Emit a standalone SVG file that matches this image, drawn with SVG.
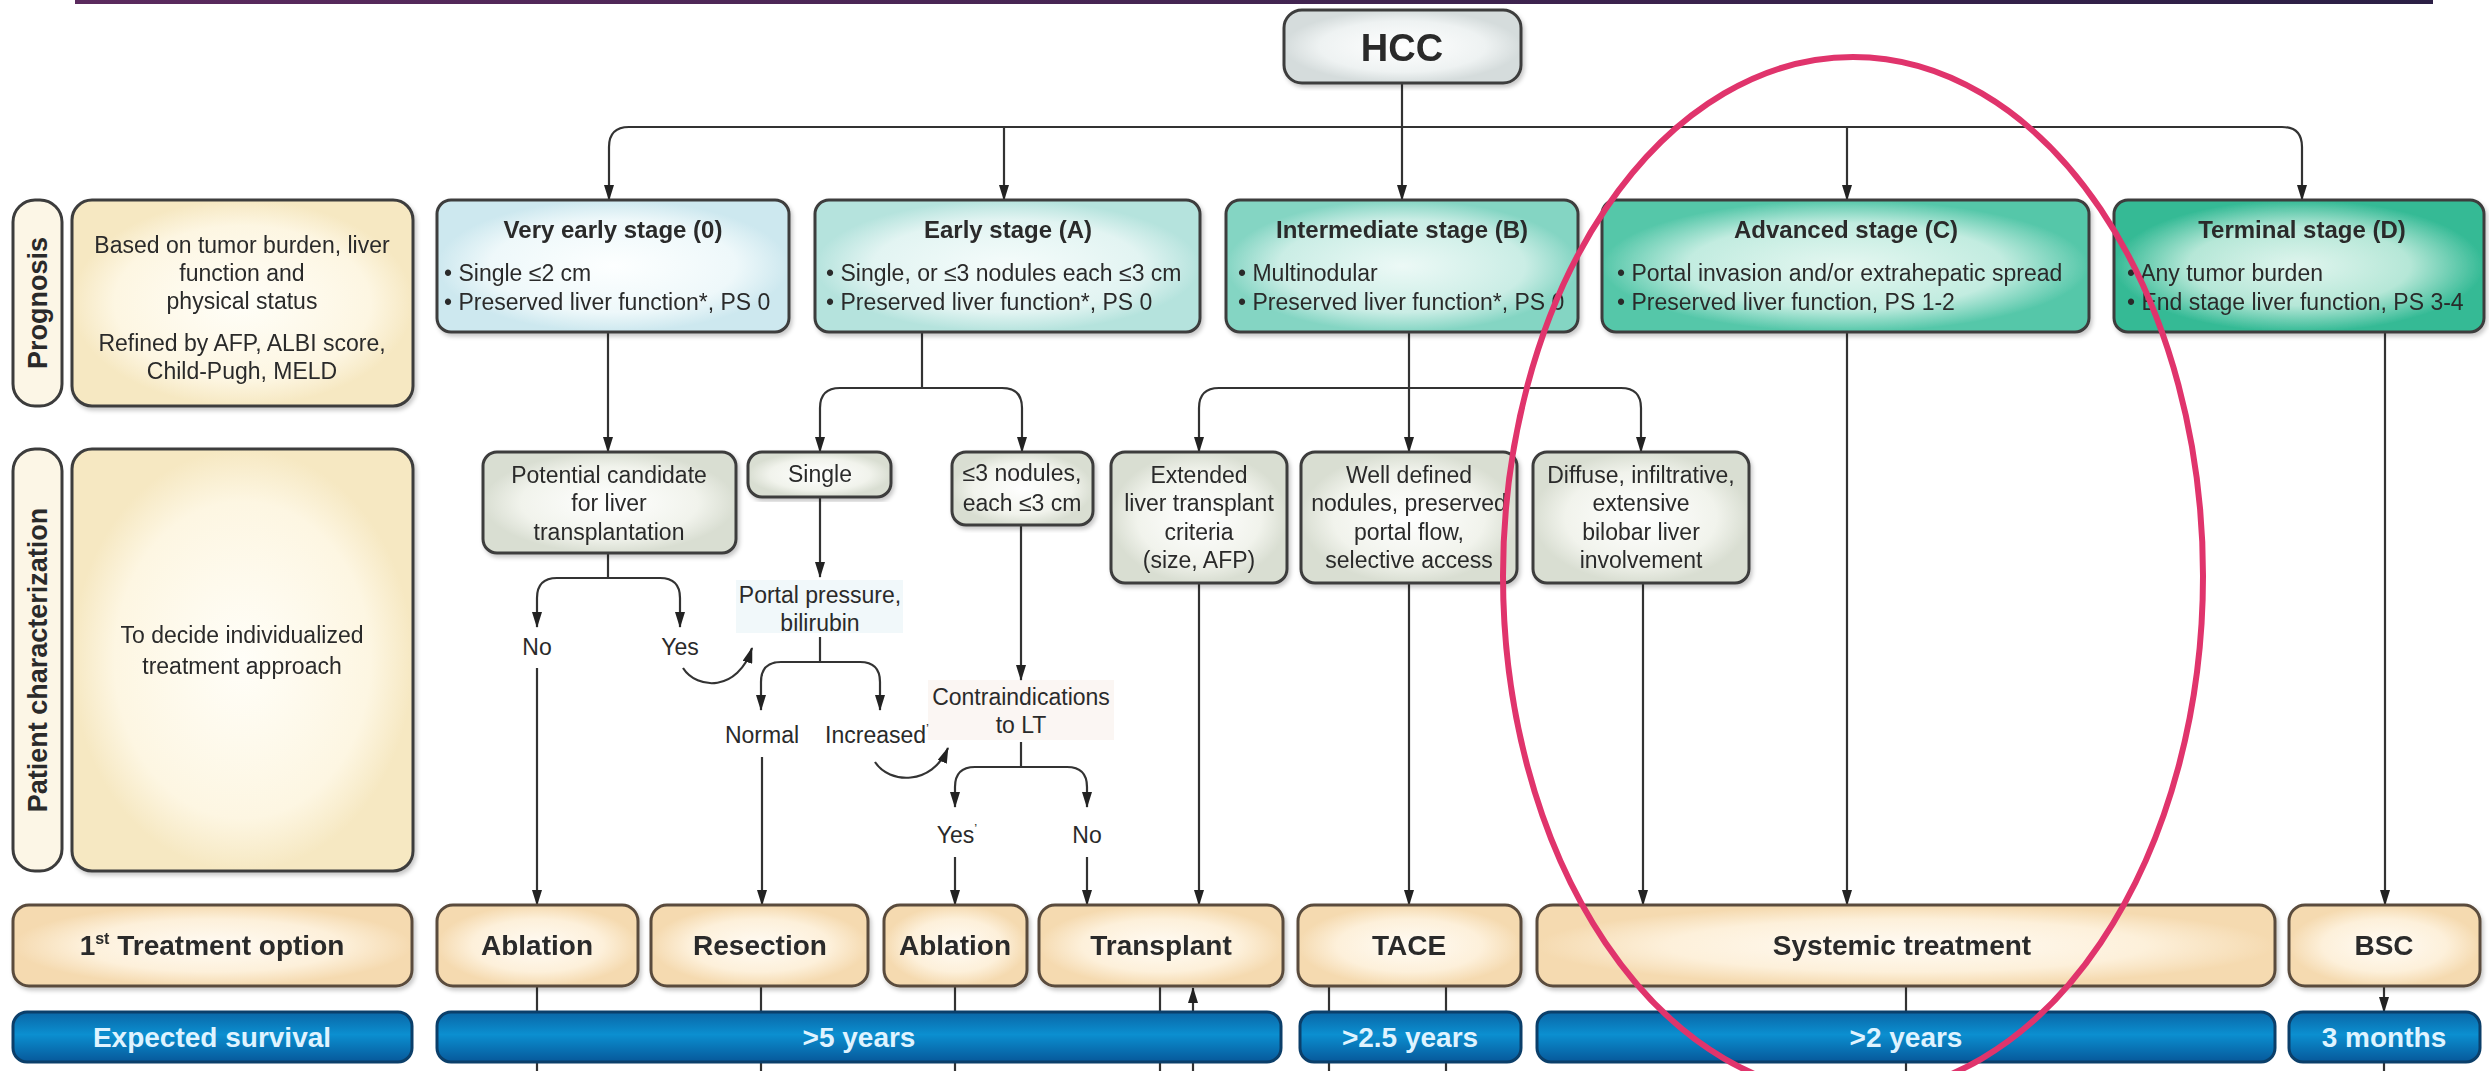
<svg xmlns="http://www.w3.org/2000/svg" width="2489" height="1071" viewBox="0 0 2489 1071">
<defs>
<style>
.t{font-family:"Liberation Sans",Arial,sans-serif;fill:#2a2a2a;}
.c{text-anchor:middle;}
.b{font-weight:bold;}
.s{font-size:23px;}
.bx{stroke:#3c3c3c;stroke-width:3;}
.tb{stroke:#5a4c3c;stroke-width:3;}
.sv{stroke:#0b3f6a;stroke-width:3;fill:url(#gBar);}
.wt{fill:#dff3ff;font-size:28px;font-weight:bold;}
.ln{fill:none;stroke:#333;stroke-width:2.2;}
.ar{marker-end:url(#ah);}
</style>
<marker id="ah" viewBox="0 0 16 10" refX="15" refY="5" markerWidth="16" markerHeight="10" orient="auto" markerUnits="userSpaceOnUse"><path d="M0,0 L16,5 L0,10 Z" fill="#222"/></marker>
<filter id="sh" x="-5%" y="-5%" width="110%" height="115%"><feDropShadow dx="2" dy="3" stdDeviation="2" flood-color="#000" flood-opacity="0.22"/></filter>
<linearGradient id="gTop" x1="0" y1="0" x2="1" y2="0"><stop offset="0" stop-color="#5b2a5e"/><stop offset="1" stop-color="#2b1f45"/></linearGradient>
<radialGradient id="gHCC"><stop offset="0" stop-color="#ffffff"/><stop offset="0.7" stop-color="#eef2f2"/><stop offset="1" stop-color="#d5dcdc"/></radialGradient>
<radialGradient id="gVE"><stop offset="0" stop-color="#fdffff"/><stop offset="0.7" stop-color="#eef8fa"/><stop offset="1" stop-color="#cde8ef"/></radialGradient>
<radialGradient id="gE"><stop offset="0" stop-color="#f5fcfb"/><stop offset="0.7" stop-color="#e2f4f2"/><stop offset="1" stop-color="#b5e3dd"/></radialGradient>
<radialGradient id="gI"><stop offset="0" stop-color="#ecf9f6"/><stop offset="0.7" stop-color="#caede5"/><stop offset="1" stop-color="#84d5c3"/></radialGradient>
<radialGradient id="gA"><stop offset="0" stop-color="#e5f7f1"/><stop offset="0.65" stop-color="#c2ece0"/><stop offset="1" stop-color="#55c7a9"/></radialGradient>
<radialGradient id="gT"><stop offset="0" stop-color="#e0f5ee"/><stop offset="0.6" stop-color="#b5e7d7"/><stop offset="1" stop-color="#34ba95"/></radialGradient>
<radialGradient id="gSub"><stop offset="0" stop-color="#ffffff"/><stop offset="0.7" stop-color="#f1f3ec"/><stop offset="1" stop-color="#d9ded2"/></radialGradient>
<radialGradient id="gY"><stop offset="0" stop-color="#fffef8"/><stop offset="0.75" stop-color="#fdf6e2"/><stop offset="1" stop-color="#f6e8c2"/></radialGradient>
<radialGradient id="gTr"><stop offset="0" stop-color="#fffbf4"/><stop offset="0.65" stop-color="#fdf0da"/><stop offset="1" stop-color="#f5dab0"/></radialGradient>
<linearGradient id="gBar" x1="0" y1="0" x2="0" y2="1"><stop offset="0" stop-color="#0a66a6"/><stop offset="0.45" stop-color="#0b8fd0"/><stop offset="1" stop-color="#07589a"/></linearGradient>
</defs>
<rect width="2489" height="1071" fill="#ffffff"/>
<rect x="75" y="0" width="2358" height="4" fill="url(#gTop)"/>
<rect x="736" y="580" width="167" height="53" fill="#f1f8fa"/>
<rect x="928" y="680" width="186" height="60" fill="#fbf6f3"/>

<g id="connectors">
<path class="ln ar" d="M1402,83 V200"/>
<path class="ln ar" d="M1402,127 H629 Q609,127 609,147 V200"/>
<path class="ln ar" d="M1402,127 H2282 Q2302,127 2302,147 V200"/>
<path class="ln ar" d="M1004,127 V200"/>
<path class="ln ar" d="M1847,127 V200"/>
<path class="ln ar" d="M608,332 V452"/>
<path class="ln" d="M922,332 V388"/>
<path class="ln ar" d="M922,388 H840 Q820,388 820,408 V452"/>
<path class="ln ar" d="M922,388 H1002 Q1022,388 1022,408 V452"/>
<path class="ln ar" d="M1409,332 V452"/>
<path class="ln ar" d="M1409,388 H1219 Q1199,388 1199,408 V452"/>
<path class="ln ar" d="M1409,388 H1621 Q1641,388 1641,408 V452"/>
<path class="ln ar" d="M1847,332 V905"/>
<path class="ln ar" d="M2385,332 V905"/>
<path class="ln" d="M608,553 V578"/>
<path class="ln ar" d="M608,578 H557 Q537,578 537,598 V627"/>
<path class="ln ar" d="M608,578 H660 Q680,578 680,598 V627"/>
<path class="ln ar" d="M537,668 V905"/>
<path class="ln ar" d="M683,668 C697,690 738,692 752,648"/>
<path class="ln ar" d="M820,497 V577"/>
<path class="ln" d="M820,637 V662"/>
<path class="ln ar" d="M820,662 H781 Q761,662 761,682 V710"/>
<path class="ln ar" d="M820,662 H860 Q880,662 880,682 V710"/>
<path class="ln ar" d="M762,757 V905"/>
<path class="ln ar" d="M875,762 C889,784 932,786 948,748"/>
<path class="ln ar" d="M1021,525 V680"/>
<path class="ln" d="M1021,742 V767"/>
<path class="ln ar" d="M1021,767 H975 Q955,767 955,787 V807"/>
<path class="ln ar" d="M1021,767 H1067 Q1087,767 1087,787 V807"/>
<path class="ln ar" d="M955,857 V905"/>
<path class="ln ar" d="M1087,857 V905"/>
<path class="ln ar" d="M1199,583 V905"/>
<path class="ln ar" d="M1409,583 V905"/>
<path class="ln ar" d="M1643,583 V905"/>
<path class="ln" d="M537,986 V1071"/>
<path class="ln" d="M761,986 V1071"/>
<path class="ln" d="M955,986 V1071"/>
<path class="ln" d="M1160,986 V1071"/>
<path class="ln ar" d="M1193,1071 V988"/>
<path class="ln" d="M1329,986 V1071"/>
<path class="ln" d="M1446,986 V1071"/>
<path class="ln" d="M1906,986 V1071"/>
<path class="ln ar" d="M2384,986 V1012"/>
<path class="ln" d="M2384,1062 V1071"/>
</g>

<g id="hcc" filter="url(#sh)"><rect x="1284" y="10" width="237" height="73" rx="18" class="bx" fill="url(#gHCC)"/><text x="1402" y="61" class="t c b" font-size="38">HCC</text></g>

<g id="label-prognosis"><rect x="13" y="200" width="49" height="206" rx="22" class="bx" fill="#fcf6e6"/><text class="t c b" font-size="27" transform="translate(47,303) rotate(-90)">Prognosis</text></g>
<g id="prognosis-text" filter="url(#sh)"><rect x="72" y="200" width="341" height="206" rx="20" class="bx" fill="url(#gY)"/>
<text class="t c s" x="242" y="253">Based on tumor burden, liver</text>
<text class="t c s" x="242" y="281">function and</text>
<text class="t c s" x="242" y="309">physical status</text>
<text class="t c s" x="242" y="351">Refined by AFP, ALBI score,</text>
<text class="t c s" x="242" y="379">Child-Pugh, MELD</text></g>
<g id="label-patient"><rect x="13" y="449" width="49" height="422" rx="22" class="bx" fill="#fcf6e6"/><text class="t c b" font-size="27" transform="translate(47,660) rotate(-90)">Patient characterization</text></g>
<g id="patient-text" filter="url(#sh)"><rect x="72" y="449" width="341" height="422" rx="20" class="bx" fill="url(#gY)"/>
<text class="t c s" x="242" y="643">To decide individualized</text>
<text class="t c s" x="242" y="674">treatment approach</text></g>

<g id="stage-0" filter="url(#sh)"><rect x="437" y="200" width="352" height="132" rx="14" class="bx" fill="url(#gVE)"/>
<text class="t c b" font-size="24" x="613" y="238">Very early stage (0)</text>
<text class="t s" x="444" y="281">• Single ≤2 cm</text>
<text class="t s" x="444" y="310">• Preserved liver function*, PS 0</text></g>
<g id="stage-a" filter="url(#sh)"><rect x="815" y="200" width="385" height="132" rx="14" class="bx" fill="url(#gE)"/>
<text class="t c b" font-size="24" x="1008" y="238">Early stage (A)</text>
<text class="t s" x="826" y="281">• Single, or ≤3 nodules each ≤3 cm</text>
<text class="t s" x="826" y="310">• Preserved liver function*, PS 0</text></g>
<g id="stage-b" filter="url(#sh)"><rect x="1226" y="200" width="352" height="132" rx="14" class="bx" fill="url(#gI)"/>
<text class="t c b" font-size="24" x="1402" y="238">Intermediate stage (B)</text>
<text class="t s" x="1238" y="281">• Multinodular</text>
<text class="t s" x="1238" y="310">• Preserved liver function*, PS 0</text></g>
<g id="stage-c" filter="url(#sh)"><rect x="1602" y="200" width="487" height="132" rx="14" class="bx" fill="url(#gA)"/>
<text class="t c b" font-size="24" x="1846" y="238">Advanced stage (C)</text>
<text class="t s" x="1617" y="281">• Portal invasion and/or extrahepatic spread</text>
<text class="t s" x="1617" y="310">• Preserved liver function, PS 1-2</text></g>
<g id="stage-d" filter="url(#sh)"><rect x="2114" y="200" width="370" height="132" rx="14" class="bx" fill="url(#gT)"/>
<text class="t c b" font-size="24" x="2302" y="238">Terminal stage (D)</text>
<text class="t s" x="2127" y="281">• Any tumor burden</text>
<text class="t s" x="2127" y="310">• End stage liver function, PS 3-4</text></g>

<g id="potential-candidate" filter="url(#sh)"><rect x="483" y="452" width="253" height="101" rx="14" class="bx" fill="url(#gSub)"/>
<text class="t c s" x="609" y="483">Potential candidate</text>
<text class="t c s" x="609" y="511">for liver</text>
<text class="t c s" x="609" y="540">transplantation</text></g>
<g id="single" filter="url(#sh)"><rect x="748" y="452" width="143" height="45" rx="14" class="bx" fill="url(#gSub)"/>
<text class="t c s" x="820" y="482">Single</text></g>
<g id="nodules" filter="url(#sh)"><rect x="952" y="452" width="141" height="73" rx="14" class="bx" fill="url(#gSub)"/>
<text class="t c s" x="1022" y="481">≤3 nodules,</text>
<text class="t c s" x="1022" y="511">each ≤3 cm</text></g>
<g id="extended" filter="url(#sh)"><rect x="1111" y="452" width="176" height="131" rx="14" class="bx" fill="url(#gSub)"/>
<text class="t c s" x="1199" y="483">Extended</text>
<text class="t c s" x="1199" y="511">liver transplant</text>
<text class="t c s" x="1199" y="540">criteria</text>
<text class="t c s" x="1199" y="568">(size, AFP)</text></g>
<g id="well-defined" filter="url(#sh)"><rect x="1301" y="452" width="216" height="131" rx="14" class="bx" fill="url(#gSub)"/>
<text class="t c s" x="1409" y="483">Well defined</text>
<text class="t c s" x="1409" y="511">nodules, preserved</text>
<text class="t c s" x="1409" y="540">portal flow,</text>
<text class="t c s" x="1409" y="568">selective access</text></g>
<g id="diffuse" filter="url(#sh)"><rect x="1533" y="452" width="216" height="131" rx="14" class="bx" fill="url(#gSub)"/>
<text class="t c s" x="1641" y="483">Diffuse, infiltrative,</text>
<text class="t c s" x="1641" y="511">extensive</text>
<text class="t c s" x="1641" y="540">bilobar liver</text>
<text class="t c s" x="1641" y="568">involvement</text></g>

<g id="decision-labels">
<text class="t c s" x="537" y="655">No</text>
<text class="t c s" x="680" y="655">Yes</text>
<text class="t c s" x="820" y="603">Portal pressure,</text>
<text class="t c s" x="820" y="631">bilirubin</text>
<text class="t c s" x="762" y="743">Normal</text>
<text class="t c s" x="877" y="743">Increased<tspan font-size="13" dy="-10">’</tspan></text>
<text class="t c s" x="1021" y="705">Contraindications</text>
<text class="t c s" x="1021" y="733">to LT</text>
<text class="t c s" x="957" y="843">Yes<tspan font-size="13" dy="-10">’</tspan></text>
<text class="t c s" x="1087" y="843">No</text>
</g>

<g id="treatment-label" filter="url(#sh)"><rect x="13" y="905" width="399" height="81" rx="16" class="tb" fill="url(#gTr)"/><text class="t c b" font-size="28" x="212" y="955">1<tspan font-size="16" dy="-11">st</tspan><tspan dy="11"> Treatment option</tspan></text></g>
<g id="tr-ablation-1" filter="url(#sh)"><rect x="437" y="905" width="201" height="81" rx="16" class="tb" fill="url(#gTr)"/><text class="t c b" font-size="28" x="537" y="955">Ablation</text></g>
<g id="tr-resection" filter="url(#sh)"><rect x="651" y="905" width="217" height="81" rx="16" class="tb" fill="url(#gTr)"/><text class="t c b" font-size="28" x="760" y="955">Resection</text></g>
<g id="tr-ablation-2" filter="url(#sh)"><rect x="884" y="905" width="143" height="81" rx="16" class="tb" fill="url(#gTr)"/><text class="t c b" font-size="28" x="955" y="955">Ablation</text></g>
<g id="tr-transplant" filter="url(#sh)"><rect x="1039" y="905" width="244" height="81" rx="16" class="tb" fill="url(#gTr)"/><text class="t c b" font-size="28" x="1161" y="955">Transplant</text></g>
<g id="tr-tace" filter="url(#sh)"><rect x="1298" y="905" width="223" height="81" rx="16" class="tb" fill="url(#gTr)"/><text class="t c b" font-size="28" x="1409" y="955">TACE</text></g>
<g id="tr-systemic" filter="url(#sh)"><rect x="1537" y="905" width="738" height="81" rx="16" class="tb" fill="url(#gTr)"/><text class="t c b" font-size="28" x="1902" y="955">Systemic treatment</text></g>
<g id="tr-bsc" filter="url(#sh)"><rect x="2289" y="905" width="191" height="81" rx="16" class="tb" fill="url(#gTr)"/><text class="t c b" font-size="28" x="2384" y="955">BSC</text></g>

<g id="sv-label"><rect x="13" y="1012" width="399" height="50" rx="14" class="sv"/><text class="t c wt" x="212" y="1047">Expected survival</text></g>
<g id="sv-5y"><rect x="437" y="1012" width="844" height="50" rx="14" class="sv"/><text class="t c wt" x="859" y="1047">&gt;5 years</text></g>
<g id="sv-25y"><rect x="1300" y="1012" width="221" height="50" rx="14" class="sv"/><text class="t c wt" x="1410" y="1047">&gt;2.5 years</text></g>
<g id="sv-2y"><rect x="1537" y="1012" width="738" height="50" rx="14" class="sv"/><text class="t c wt" x="1906" y="1047">&gt;2 years</text></g>
<g id="sv-3m"><rect x="2289" y="1012" width="191" height="50" rx="14" class="sv"/><text class="t c wt" x="2384" y="1047">3 months</text></g>

<ellipse id="highlight" cx="1853" cy="576" rx="350" ry="519" fill="none" stroke="#e0346c" stroke-width="6"/>
</svg>
